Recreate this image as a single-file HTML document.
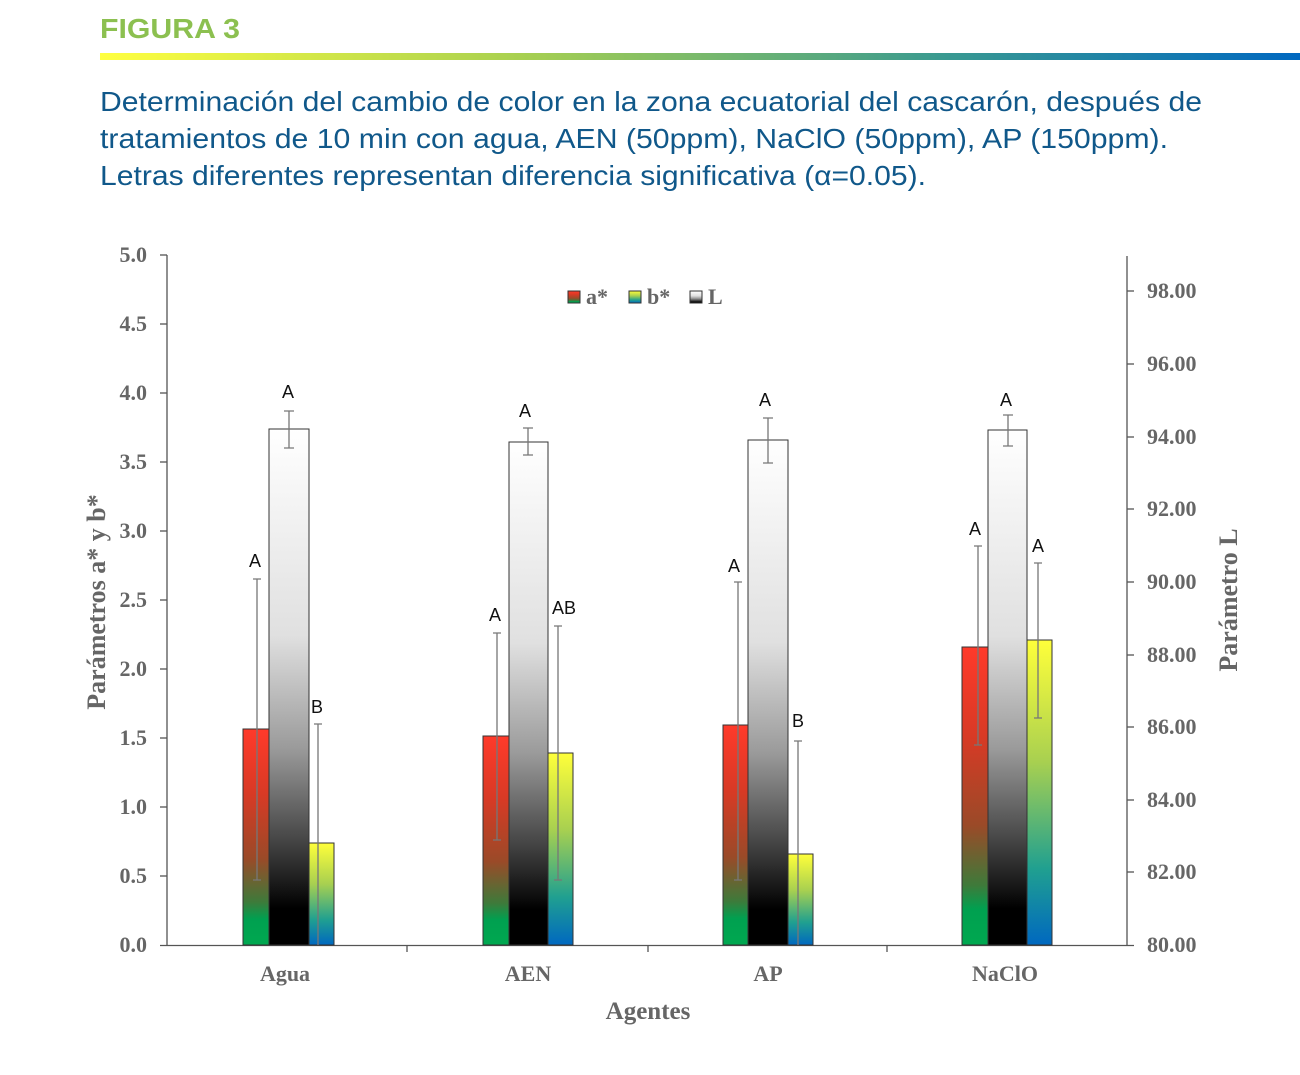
<!DOCTYPE html>
<html><head><meta charset="utf-8"><style>
body{margin:0;background:#fff;width:1300px;height:1070px;overflow:hidden}
</style></head><body>
<svg width="1300" height="1070" xmlns="http://www.w3.org/2000/svg">
<defs>
<linearGradient id="bar" x1="0" x2="1" y1="0" y2="0">
<stop offset="0" stop-color="#ffff40"/><stop offset="0.35" stop-color="#a8d050"/><stop offset="0.7" stop-color="#3a9a90"/><stop offset="1" stop-color="#0068c0"/></linearGradient>
<linearGradient id="ga" x1="0" x2="0" y1="0" y2="1">
<stop offset="0" stop-color="#ff3a2a"/><stop offset="0.3" stop-color="#d83a25"/><stop offset="0.6" stop-color="#9a4a28"/><stop offset="0.8" stop-color="#3e7a3a"/><stop offset="0.88" stop-color="#00a050"/><stop offset="1" stop-color="#00a850"/></linearGradient>
<linearGradient id="gl" x1="0" x2="0" y1="0" y2="1">
<stop offset="0" stop-color="#ffffff"/><stop offset="0.4" stop-color="#e0e0e0"/><stop offset="0.62" stop-color="#9a9a9a"/><stop offset="0.8" stop-color="#444"/><stop offset="0.93" stop-color="#000"/><stop offset="1" stop-color="#000"/></linearGradient>
<linearGradient id="gb" x1="0" x2="0" y1="0" y2="1">
<stop offset="0" stop-color="#ffff3a"/><stop offset="0.4" stop-color="#a8d050"/><stop offset="0.75" stop-color="#20a090"/><stop offset="1" stop-color="#0068c0"/></linearGradient>
</defs>
<text x="100" y="38" font-family="Liberation Sans, sans-serif" font-weight="bold" font-size="28" fill="#8cc050" textLength="140" lengthAdjust="spacingAndGlyphs">FIGURA 3</text>
<rect x="100" y="53" width="1200" height="7" fill="url(#bar)"/>
<g font-family="Liberation Sans, sans-serif" font-size="28" fill="#10588a" lengthAdjust="spacingAndGlyphs">
<text x="100" y="111" textLength="1102" lengthAdjust="spacingAndGlyphs">Determinación del cambio de color en la zona ecuatorial del cascarón, después de</text>
<text x="100" y="148" textLength="1068" lengthAdjust="spacingAndGlyphs">tratamientos de 10 min con agua, AEN (50ppm), NaClO (50ppm), AP (150ppm).</text>
<text x="100" y="185" textLength="826" lengthAdjust="spacingAndGlyphs">Letras diferentes representan diferencia significativa (α=0.05).</text>
</g>
<g stroke="#555" stroke-width="1.3" fill="none">
<line x1="167" y1="255" x2="167" y2="946"/>
<line x1="1127" y1="256" x2="1127" y2="946"/>
<line x1="160" y1="945.5" x2="1134" y2="945.5"/>
<line x1="160" y1="255" x2="167" y2="255"/><line x1="160" y1="324" x2="167" y2="324"/><line x1="160" y1="393" x2="167" y2="393"/><line x1="160" y1="462" x2="167" y2="462"/><line x1="160" y1="531" x2="167" y2="531"/><line x1="160" y1="600" x2="167" y2="600"/><line x1="160" y1="669" x2="167" y2="669"/><line x1="160" y1="738" x2="167" y2="738"/><line x1="160" y1="807" x2="167" y2="807"/><line x1="160" y1="876" x2="167" y2="876"/>
<line x1="1127" y1="291" x2="1134" y2="291"/><line x1="1127" y1="364" x2="1134" y2="364"/><line x1="1127" y1="437" x2="1134" y2="437"/><line x1="1127" y1="509" x2="1134" y2="509"/><line x1="1127" y1="582" x2="1134" y2="582"/><line x1="1127" y1="655" x2="1134" y2="655"/><line x1="1127" y1="727" x2="1134" y2="727"/><line x1="1127" y1="800" x2="1134" y2="800"/><line x1="1127" y1="872" x2="1134" y2="872"/>
<line x1="407" y1="945" x2="407" y2="952"/><line x1="648" y1="945" x2="648" y2="952"/><line x1="887" y1="945" x2="887" y2="952"/>
</g>
<g font-family="Liberation Serif, serif" font-weight="bold" font-size="22" fill="#666">
<g text-anchor="end">
<text x="147" y="262">5.0</text><text x="147" y="331">4.5</text><text x="147" y="400">4.0</text><text x="147" y="469">3.5</text><text x="147" y="538">3.0</text><text x="147" y="607">2.5</text><text x="147" y="676">2.0</text><text x="147" y="745">1.5</text><text x="147" y="814">1.0</text><text x="147" y="883">0.5</text><text x="147" y="952">0.0</text>
</g>
<text x="1147" y="298">98.00</text><text x="1147" y="371">96.00</text><text x="1147" y="444">94.00</text><text x="1147" y="516">92.00</text><text x="1147" y="589">90.00</text><text x="1147" y="662">88.00</text><text x="1147" y="734">86.00</text><text x="1147" y="807">84.00</text><text x="1147" y="879">82.00</text><text x="1147" y="952">80.00</text>
<g text-anchor="middle">
<text x="285" y="981">Agua</text><text x="528" y="981">AEN</text><text x="768" y="981">AP</text><text x="1005" y="981">NaClO</text>
<text x="648" y="1019" font-size="25">Agentes</text>
<text transform="translate(105,602) rotate(-90)" font-size="26">Parámetros a* y b*</text>
<text transform="translate(1237,600) rotate(-90)" font-size="26">Parámetro L</text>
</g>
<rect x="568" y="291" width="12" height="12" fill="url(#ga)" stroke="#333" stroke-width="1"/><text x="586" y="304">a*</text>
<rect x="629" y="291" width="12" height="12" fill="url(#gb)" stroke="#333" stroke-width="1"/><text x="647" y="304">b*</text>
<rect x="690" y="291" width="12" height="12" fill="url(#gl)" stroke="#333" stroke-width="1"/><text x="708" y="304">L</text>
</g>
<g stroke="#333" stroke-width="1">
<rect x="243" y="729" width="26" height="216" fill="url(#ga)"/>
<rect x="269" y="429" width="40" height="516" fill="url(#gl)"/>
<rect x="309" y="843" width="25" height="102" fill="url(#gb)"/>
<rect x="483" y="736" width="26" height="209" fill="url(#ga)"/>
<rect x="509" y="442" width="39" height="503" fill="url(#gl)"/>
<rect x="548" y="753" width="25" height="192" fill="url(#gb)"/>
<rect x="723" y="725" width="25" height="220" fill="url(#ga)"/>
<rect x="748" y="440" width="40" height="505" fill="url(#gl)"/>
<rect x="788" y="854" width="25" height="91" fill="url(#gb)"/>
<rect x="962" y="647" width="26" height="298" fill="url(#ga)"/>
<rect x="988" y="430" width="39" height="515" fill="url(#gl)"/>
<rect x="1027" y="640" width="25" height="305" fill="url(#gb)"/>
</g>
<g stroke="#777" stroke-width="1.3">
<path d="M257 579V880M253 579h8M253 880h8"/>
<path d="M289 411V448M284 411h10M284 448h10"/>
<path d="M318 724V945M314 724h8"/>
<path d="M497 633V840M493 633h8M493 840h8"/>
<path d="M528 428V455M523 428h10M523 455h10"/>
<path d="M558 626V880M554 626h8M554 880h8"/>
<path d="M738 582V880M734 582h8M734 880h8"/>
<path d="M768 418V463M763 418h10M763 463h10"/>
<path d="M798 741V945M794 741h8"/>
<path d="M978 546V745M974 546h8M974 745h8"/>
<path d="M1008 415V446M1003 415h10M1003 446h10"/>
<path d="M1038 563V718M1034 563h8M1034 718h8"/>
</g>
<g font-family="Liberation Sans, sans-serif" font-size="18" fill="#111" text-anchor="middle">
<text x="288" y="398">A</text><text x="255" y="567">A</text><text x="317" y="713">B</text>
<text x="525" y="417">A</text><text x="495" y="621">A</text><text x="564" y="614">AB</text>
<text x="765" y="406">A</text><text x="734" y="572">A</text><text x="798" y="727">B</text>
<text x="1006" y="406">A</text><text x="975" y="535">A</text><text x="1038" y="552">A</text>
</g>
</svg>
</body></html>
